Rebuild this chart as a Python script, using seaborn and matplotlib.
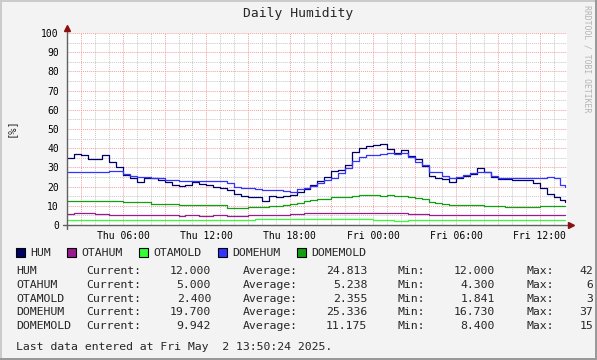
import numpy as np
import pandas as pd
import seaborn as sns
import matplotlib
matplotlib.use("Agg")
from matplotlib import pyplot as plt
from matplotlib.patches import Rectangle
from matplotlib.lines import Line2D

W, H = 597, 360

series_names = ["HUM", "OTAHUM", "OTAMOLD", "DOMEHUM", "DOMEMOLD"]
series_colors = ["#000066", "#9A1A8F", "#33FF33", "#3333FF", "#11A011"]

# hours since Thu 00:00, one reading every half hour, last one Fri 13:50
hours = list(np.arange(2.0, 38.0, 0.5)) + [37.83]

hum = [35, 37, 36.5, 34.5, 34.5, 36.5, 33, 30,
       26, 24.3, 22.5, 24.3, 24.3, 23.4, 22.6, 20.8,
       20.3, 20.8, 22.2, 21.5, 20.8, 19.8, 19.2, 18.2,
       16, 15, 14.8, 14.5, 12.5, 15, 14.8, 15,
       15.5, 17, 18.6, 21, 23, 25, 28, 28.5,
       31.5, 38, 40, 41, 41.7, 42, 39.5, 37.5,
       39, 36, 34.5, 30.5, 25.5, 24.5, 24, 22.6,
       24.4, 25.5, 26.5, 29.5, 27.5, 25, 24, 23.8,
       23.6, 23.5, 23.4, 22, 19.2, 16, 14.6, 13.2,
       12.0]
otahum = [5.7, 6.1, 6.2, 6.0, 5.8, 5.6, 5.0, 5.0,
          5.0, 5.0, 5.0, 5.0, 5.0, 5.0, 5.0, 5.0,
          4.9, 5.0, 5.0, 4.8, 4.9, 5.0, 5.0, 4.9,
          4.9, 4.9, 5.0, 5.1, 5.2, 5.2, 5.3, 5.4,
          5.6, 5.8, 6.0, 6.0, 6.0, 6.0, 6.0, 6.0,
          6.0, 6.0, 6.3, 6.4, 6.3, 6.3, 6.3, 6.2,
          6.0, 5.8, 5.8, 5.6, 5.4, 5.2, 5.1, 5.0,
          5.0, 5.0, 5.0, 5.0, 5.0, 5.0, 5.0, 5.0,
          5.0, 5.0, 5.0, 5.0, 5.0, 5.0, 5.0, 5.0,
          5.0]
otamold = [2.4, 2.4, 2.4, 2.4, 2.4, 2.4, 2.4, 2.4,
           2.4, 2.4, 2.4, 2.4, 2.4, 2.4, 2.4, 2.4,
           2.4, 2.4, 2.4, 2.4, 2.4, 2.4, 2.4, 2.4,
           2.4, 2.4, 2.4, 2.9, 2.9, 3.0, 3.0, 3.0,
           3.3, 3.3, 3.3, 3.3, 3.3, 3.3, 3.3, 3.3,
           3.3, 3.3, 2.9, 2.9, 2.4, 2.4, 2.4, 2.3,
           2.3, 2.4, 2.4, 2.4, 2.4, 2.4, 2.4, 2.4,
           2.4, 2.4, 2.4, 2.4, 2.4, 2.4, 2.4, 2.4,
           2.4, 2.4, 2.4, 2.4, 2.4, 2.4, 2.4, 2.4,
           2.4]
domehum = [27.8, 27.4, 27.8, 27.8, 27.8, 27.8, 28.1, 28.1,
           26.5, 25.5, 24.8, 24.8, 24.5, 24.3, 23.6, 23.2,
           23.1, 23.1, 23.1, 23.0, 23.0, 22.9, 22.9, 22.0,
           20.0, 19.4, 19.2, 18.8, 18.2, 18.2, 18.0, 17.8,
           17.4, 18.5, 19.1, 20.5, 22.0, 23.5, 24.3, 27.0,
           29.5, 33.5, 35.5, 36.5, 36.5, 36.8, 37.3, 37.0,
           37.3, 35.6, 33.0, 31.0, 27.8, 27.8, 25.5, 24.5,
           25.2, 25.8, 27.0, 27.5, 27.8, 25.5, 24.5, 24.3,
           24.3, 24.3, 24.3, 24.3, 24.6, 25.1, 24.3, 20.8,
           19.7]
domemold = [12.5, 12.5, 12.5, 12.5, 12.5, 12.5, 12.5, 12.5,
            11.8, 11.8, 11.8, 11.8, 10.8, 10.8, 10.8, 10.8,
            10.6, 10.5, 10.4, 10.4, 10.4, 10.4, 10.4, 9.0,
            8.6, 8.8, 9.2, 9.4, 9.6, 9.8, 10.0, 10.4,
            11.0, 11.6, 12.4, 12.8, 13.4, 13.8, 14.4, 14.6,
            14.8, 15.0, 15.4, 15.6, 15.5, 15.3, 15.4, 15.3,
            15.1, 14.6, 14.0, 13.4, 12.2, 11.4, 10.8, 10.4,
            10.4, 10.4, 10.5, 10.6, 10.0, 9.8, 9.7, 9.6,
            9.5, 9.5, 9.6, 9.6, 9.8, 9.8, 9.9, 10.0,
            9.942]

x_tick_hours = [6, 12, 18, 24, 30, 36]
x_tick_labels = ["Thu 06:00", "Thu 12:00", "Thu 18:00",
                 "Fri 00:00", "Fri 06:00", "Fri 12:00"]

stat_current = [12.000, 5.000, 2.400, 19.700, 9.942]
stat_average = [24.813, 5.238, 2.355, 25.336, 11.175]
stat_min = [12.000, 4.300, 1.841, 16.730, 8.400]
stat_max = [42.000, 6.400, 3.400, 37.300, 15.600]

last_update = "Last data entered at Fri May  2 13:50:24 2025."


def fx(x):
    return x / W


def fy(y):
    return 1 - y / H


df = pd.DataFrame({"hour": hours, "HUM": hum, "OTAHUM": otahum, "OTAMOLD": otamold,
                   "DOMEHUM": domehum, "DOMEMOLD": domemold})
df = df.melt(id_vars="hour", var_name="series", value_name="value")

sns.set_style("white")
plt.rcParams["font.family"] = ["DejaVu Sans Mono"]

fig = plt.figure(figsize=(W / 100, H / 100), dpi=100, facecolor="#F3F3F3")
ax = fig.add_axes([fx(67), fy(225), 500 / W, 192 / H])
ax.set_facecolor("white")

sns.lineplot(data=df, x="hour", y="value", hue="series", hue_order=series_names,
             palette=series_colors, drawstyle="steps-post", linewidth=0.9,
             legend=False, ax=ax)

ax.set_xlim(1.97, 37.97)
ax.set_ylim(0, 100)
ax.set_xlabel("")
ax.set_ylabel("")

# grid: gray every hour / 5 %, red every 3 hours / 10 %
ax.set_xticks(np.arange(3, 38, 3))
ax.set_xticks(np.arange(2, 38, 1), minor=True)
ax.set_xticklabels([x_tick_labels[x_tick_hours.index(h)] if h in x_tick_hours else ""
                    for h in np.arange(3, 38, 3)])
ax.set_yticks(np.arange(0, 101, 10))
ax.set_yticks(np.arange(5, 100, 10), minor=True)
ax.grid(which="minor", color="#C8C8C8", linestyle=(0, (1, 1)), linewidth=0.7)
ax.grid(which="major", color="#F2A0A0", linestyle=(0, (1, 1)), linewidth=0.7)
ax.set_axisbelow(True)
ax.tick_params(which="both", direction="out", length=1.5, width=0.7, color="#777777",
               labelsize=7, colors="#777777", labelcolor="black")
ax.tick_params(axis="y", pad=4.3)
ax.tick_params(axis="x", pad=2.8)
for s in ax.spines.values():
    s.set_visible(False)

# axes with arrows
fig.add_artist(Line2D([fx(67), fx(67)], [fy(229), fy(29)], color="#606060", lw=1.0))
fig.add_artist(Line2D([fx(63), fx(569)], [fy(225), fy(225)], color="#606060", lw=1.0))
fig.add_artist(Line2D([fx(67)], [fy(28)], marker="^", markersize=5, color="#8B1111", lw=0))
fig.add_artist(Line2D([fx(571)], [fy(225)], marker=">", markersize=5, color="#8B1111", lw=0))

fig.text(fx(298), fy(14), "Daily Humidity", ha="center", va="center", fontsize=9.4)
fig.text(fx(10.5), fy(128), "[%]", rotation=90, ha="center", va="center", fontsize=7.5)
fig.text(fx(587), fy(59), "RRDTOOL / TOBI OETIKER", rotation=270, ha="center",
         va="center", fontsize=5.9, color="#B4B4B4")

# legend row
char_w = 6.9
x = 16
for name, color in zip(series_names, series_colors):
    fig.add_artist(Rectangle((fx(x), fy(257)), 9 / W, 9 / H, transform=fig.transFigure,
                             facecolor=color, edgecolor="black", lw=0.8))
    fig.text(fx(x + 14.5), fy(252.5), name, ha="left", va="center", fontsize=8.25)
    x = x + 14.5 + len(name) * char_w + 16

# statistics table
for i, name in enumerate(series_names):
    y = fy(271 + i * 13.8)
    fig.text(fx(16), y, name, ha="left", va="center", fontsize=8.25)
    fig.text(fx(86.7), y, "Current:", ha="left", va="center", fontsize=8.25)
    fig.text(fx(211), y, f"{stat_current[i]:.3f}", ha="right", va="center", fontsize=8.25)
    fig.text(fx(242.3), y, "Average:", ha="left", va="center", fontsize=8.25)
    fig.text(fx(367.3), y, f"{stat_average[i]:.3f}", ha="right", va="center", fontsize=8.25)
    fig.text(fx(397.7), y, "Min:", ha="left", va="center", fontsize=8.25)
    fig.text(fx(495), y, f"{stat_min[i]:.3f}", ha="right", va="center", fontsize=8.25)
    fig.text(fx(526.7), y, "Max:", ha="left", va="center", fontsize=8.25)
    # the image is only wide enough for the first two columns of the max value
    fig.text(fx(579.6), y, f"{stat_max[i]:6.3f}"[:2], ha="left", va="center", fontsize=8.25)

fig.text(fx(16), fy(346.7), last_update, ha="left", va="center", fontsize=8.25)

# 3d frame
fig.add_artist(Rectangle((0, 0), 2 / W, 1, transform=fig.transFigure, color="#CBCBCB", lw=0))
fig.add_artist(Rectangle((0, 1 - 2 / H), 1, 2 / H, transform=fig.transFigure, color="#CBCBCB", lw=0))
fig.add_artist(Rectangle((1 - 2 / W, 0), 2 / W, 1, transform=fig.transFigure, color="#999999", lw=0))
fig.add_artist(Rectangle((0, 0), 1, 2 / H, transform=fig.transFigure, color="#999999", lw=0))

fig.savefig("out.png", dpi=100, facecolor=fig.get_facecolor())
plt.close("all")
